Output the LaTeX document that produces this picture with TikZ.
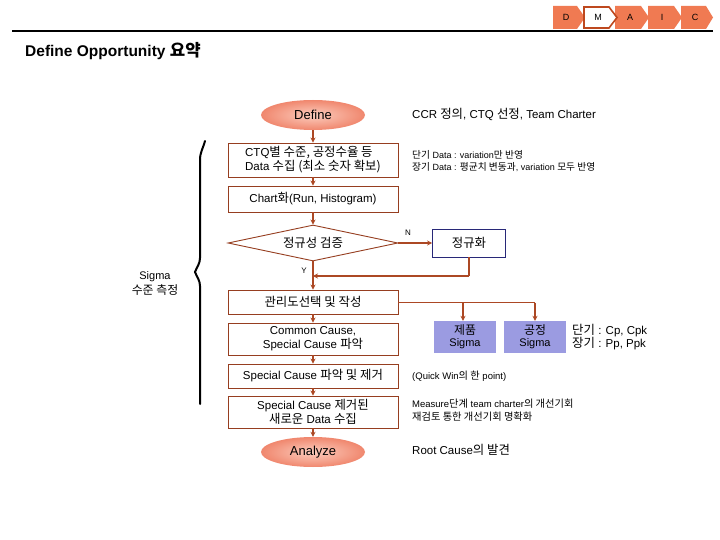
\documentclass[tikz,border=0pt]{standalone}
\usepackage{fontspec}
\setmainfont{Liberation Sans}
\newfontfamily\krfont[Scale=1.08]{Noto Sans CJK KR}
\newcommand{\ko}[1]{{\krfont #1}}
\usetikzlibrary{shapes.geometric,arrows.meta}
\definecolor{tabC}{RGB}{240,122,82}
\definecolor{mC}{RGB}{190,72,30}
\definecolor{lineC}{RGB}{172,72,36}
\definecolor{boxC}{RGB}{150,62,32}
\definecolor{navyC}{RGB}{40,40,120}
\definecolor{lavC}{RGB}{155,155,225}
\definecolor{ellO}{RGB}{240,135,110}
\definecolor{ellI}{RGB}{252,205,190}
\begin{document}
\begin{tikzpicture}[x=1pt,y=-1pt,
  box/.style={draw=boxC,line width=0.9pt,rectangle,minimum width=170pt,inner sep=2pt,font=\fontsize{11.5}{14}\selectfont},
  oval/.style={ellipse,shade,inner color=ellI,outer color=ellO,minimum width=104pt,minimum height=30pt,inner sep=0pt,font=\fontsize{13}{15}\selectfont},
  sig/.style={fill=lavC,rectangle,minimum width=62pt,minimum height=32pt,inner sep=1pt,align=center,font=\fontsize{11}{12}\selectfont},
  conn/.style={draw=lineC,line width=1.6pt,-{Stealth[length=5pt,width=5pt]}},
  plain/.style={draw=lineC,line width=1.6pt},
  note/.style={anchor=west,inner sep=0pt,align=left},
  tab/.style={fill=tabC,draw=none},
  tabtxt/.style={font=\fontsize{9}{10}\selectfont,inner sep=0pt}]
\useasboundingbox (0,0) rectangle (720,540);
\fill[white] (0,0) rectangle (720,540);

% DMAIC tabs
\fill[tab] (553,6) -- (577,6) -- (585,17.5) -- (577,29) -- (553,29) -- cycle;
\fill[tab] (681,6) -- (706,6) -- (713,17.5) -- (706,29) -- (681,29) -- cycle;
\fill[tab] (648,6) -- (674,6) -- (682,17.5) -- (674,29) -- (648,29) -- cycle;
\fill[tab] (615,6) -- (641,6) -- (649,17.5) -- (641,29) -- (615,29) -- cycle;
\filldraw[fill=white,draw=mC,line width=1.6pt] (584,7) -- (609,7) -- (617,17.5) -- (609,28) -- (584,28) -- cycle;
\node[tabtxt] (tD) at (566,17.5) {D};
\node[tabtxt] (tM) at (598,17.5) {M};
\node[tabtxt] (tA) at (630,17.5) {A};
\node[tabtxt] (tI) at (662,17.5) {I};
\node[tabtxt] (tC) at (695,17.5) {C};
\draw[line width=2.5pt] (12,31) -- (713,31);

% title
\node[anchor=west,inner sep=0pt,font=\bfseries\fontsize{15.5}{17}\selectfont] (title) at (25,51) {Define Opportunity \ko{요약}};

% main flow
\node[oval] (def) at (313,115) {Define};
\node[box,minimum height=34pt,align=left] (ctq) at (313,160) {CTQ\ko{별 수준, 공정수율 등}\\Data \ko{수집 (최소 숫자 확보)}};
\node[box,minimum height=26pt] (chart) at (313,199) {Chart\ko{화}(Run, Histogram)};
\node[diamond,draw=boxC,line width=0.9pt,minimum width=170pt,minimum height=36pt,aspect=4.7,inner sep=0pt,font=\fontsize{11.5}{13}\selectfont] (dia) at (313,243) {\ko{정규성 검증}};
\node[draw=navyC,line width=0.9pt,rectangle,minimum width=73pt,minimum height=28pt,font=\fontsize{11.5}{13}\selectfont] (norm) at (469,243) {\ko{정규화}};
\node[box,minimum height=24pt] (mgmt) at (313,302) {\ko{관리도선택 및 작성}};
\node[box,minimum height=32pt,align=center] (cc) at (313,339) {Common Cause,\\Special Cause \ko{파악}};
\node[box,minimum height=24pt] (sc) at (313,376) {Special Cause \ko{파악 및 제거}};
\node[box,minimum height=32pt,align=center] (new) at (313,412) {Special Cause \ko{제거된}\\\ko{새로운} Data \ko{수집}};
\node[oval] (ana) at (313,452) {Analyze};

\node[sig] (s1) at (465,337) {\ko{제품}\\Sigma};
\node[sig] (s2) at (535,337) {\ko{공정}\\Sigma};

\coordinate (merge) at (313,276);
\coordinate (nb) at (469,276);
\coordinate (b1) at (463,302.5);
\coordinate (b2) at (535,302.5);

\draw[conn] (def) -- (ctq);
\draw[conn] (ctq) -- (chart);
\draw[conn] (chart) -- (dia);
\draw[conn] (dia.east) -- (norm.west);
\node[font=\fontsize{8}{9}\selectfont,inner sep=0pt] (nlab) at (408,233) {N};
\draw[conn] (dia.south) -- (mgmt.north);
\node[font=\fontsize{8}{9}\selectfont,inner sep=0pt] (ylabel) at (304,271) {Y};
\draw[plain] (norm.south) -- (nb);
\draw[conn] (nb) -- (merge);
\draw[plain] (mgmt.east |- b2) -- (b2);
\draw[conn] (b2) -- (s2.north);
\draw[conn] (b1) -- (b1 |- s1.north);
\draw[conn] (mgmt) -- (cc);
\draw[conn] (cc) -- (sc);
\draw[conn] (sc) -- (new);
\draw[conn] (new) -- (ana);

% notes
\node[note,font=\fontsize{11.5}{13}\selectfont] (n1) at (412,114) {CCR \ko{정의}, CTQ \ko{선정}, Team Charter};
\node[note,font=\fontsize{9}{12}\selectfont] (n2) at (412,161) {\ko{단기} Data : variation\ko{만 반영}\\\ko{장기} Data : \ko{평균치 변동과}, variation \ko{모두 반영}};
\node[note,font=\fontsize{11.5}{12.5}\selectfont] (n3) at (572,337) {\ko{단기} : Cp, Cpk\\\ko{장기} : Pp, Ppk};
\node[note,font=\fontsize{9.5}{10}\selectfont] (n4) at (412,376) {(Quick Win\ko{의 한} point)};
\node[note,font=\fontsize{9.5}{13}\selectfont] (n5) at (412,410) {Measure\ko{단계} team charter\ko{의 개선기회}\\\ko{재검토 통한 개선기회 명확화}};
\node[note,font=\fontsize{11.5}{12}\selectfont] (n6) at (412,450) {Root Cause\ko{의 발견}};

% brace
\draw[line width=2pt,line cap=round] (205,141) to[out=-105,in=90] (200,160) -- (200,258) to[out=-90,in=70] (195,272) to[out=-70,in=90] (200,286) -- (200,404);
\node[align=center,font=\fontsize{11}{15}\selectfont] (sigma) at (155,283) {Sigma\\\ko{수준 측정}};
\end{tikzpicture}
\end{document}
